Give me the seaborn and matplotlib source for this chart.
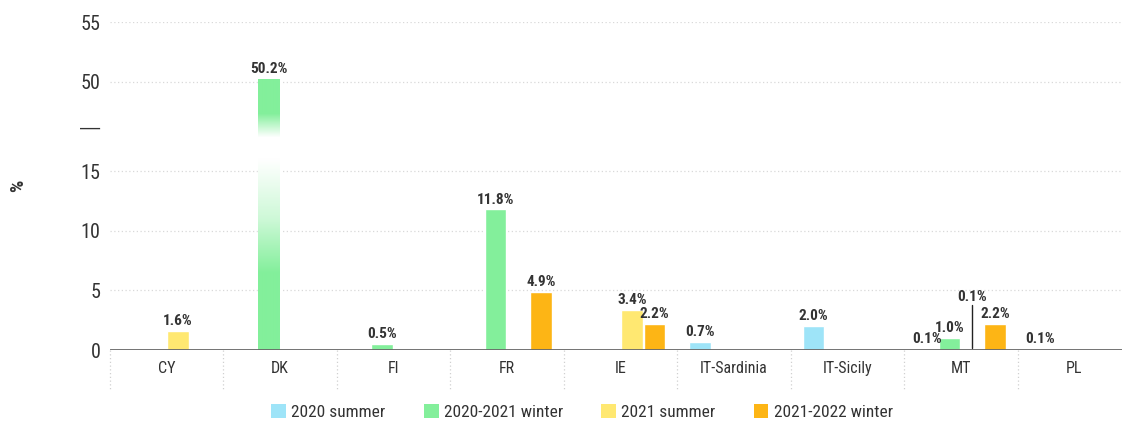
import numpy as np
import pandas as pd
import matplotlib

matplotlib.use("Agg")
import matplotlib.pyplot as plt
import matplotlib.transforms as mtransforms
from matplotlib.patches import Patch
import seaborn as sns

# data (None = no bar)
countries = ["CY", "DK", "FI", "FR", "IE", "IT-Sardinia", "IT-Sicily", "MT", "PL"]
seasons = ["2020 summer", "2020-2021 winter", "2021 summer", "2021-2022 winter"]
summer_2020 = [None, None, None, None, None, 0.7, 2.0, 0.1, 0.1]
winter_2020_21 = [None, 50.2, 0.5, 11.8, None, None, None, 1.0, None]
summer_2021 = [1.6, None, None, None, 3.4, None, None, 0.1, None]
winter_2021_22 = [None, None, None, 4.9, 2.2, None, None, 2.2, None]
colors = ["#9ee4f8", "#83ef9b", "#ffe871", "#fdb515"]

series = [summer_2020, winter_2020_21, summer_2021, winter_2021_22]
rows = []
for season, vals in zip(seasons, series):
    for c, v in zip(countries, vals):
        if v is not None:
            rows.append({"country": c, "season": season, "value": v})
df = pd.DataFrame(rows)

# broken y axis: 15..50 squeezed into a small gap
LOW, HIGH, GAP = 15.0, 50.0, 7.54


def fwd(v):
    v = np.asarray(v, dtype=float)
    return np.where(v <= LOW, v,
                    np.where(v >= HIGH, v - HIGH + LOW + GAP,
                             LOW + (v - LOW) * GAP / (HIGH - LOW)))


def inv(d):
    d = np.asarray(d, dtype=float)
    return np.where(d <= LOW, d,
                    np.where(d >= LOW + GAP, d - LOW - GAP + HIGH,
                             LOW + (d - LOW) * (HIGH - LOW) / GAP))


FONT = ["Roboto Condensed", "Liberation Sans", "DejaVu Sans"]
sns.set_theme(style="white")
plt.rcParams["font.family"] = FONT

fig = plt.figure(figsize=(11.22, 4.21), dpi=100)
ax = fig.add_axes([110 / 1122, 71 / 421, 1021 / 1122, 328 / 421])

sns.barplot(data=df, x="country", y="value", hue="season", order=countries,
            hue_order=seasons, palette=colors, width=0.8, gap=0.05,
            saturation=1, legend=False, ax=ax)

ax.set_yscale("function", functions=(fwd, inv))
ax.set_ylim(0, 55)
ax.set_xlim(-0.5, len(countries) - 0.5)

mid = float(inv(LOW + GAP / 2))
ax.set_yticks([0, 5, 10, 15, mid, 50, 55])
ax.set_yticklabels(["0", "5", "10", "15", "\u2014", "50", "55"])
ax.tick_params(axis="y", length=0, pad=7, labelsize=14.5, labelcolor="#333333")
ax.tick_params(axis="x", length=0, pad=8, labelsize=11.5, labelcolor="#333333")
# the break marker reads as a long dash
ax.get_yticklabels()[4].set_fontfamily(["Liberation Sans", "DejaVu Sans"])
ax.set_xlabel("")
ax.set_ylabel("%", fontsize=14, fontweight="bold", color="#333333")
ax.yaxis.set_label_coords(-0.081, 0.5)

for s in ax.spines.values():
    s.set_visible(False)

for t in [5, 10, 15, 50, 55]:
    ax.axhline(t, color="#d9d9d9", lw=0.9, ls=(0, (1, 2)), zorder=0)
ax.axhline(0, color="#666666", lw=2, zorder=5)

# dotted separators between categories, below the zero line
blend = mtransforms.blended_transform_factory(ax.transData, ax.transAxes)
for i in range(len(countries)):
    ax.plot([i - 0.5, i - 0.5], [0, -0.118], transform=blend, color="#d0d0d0",
            lw=0.9, ls=(0, (1, 2)), clip_on=False)

# value labels
for season, cont in zip(seasons, ax.containers):
    for bar, val in zip(cont, cont.datavalues):
        if np.isnan(val):
            continue
        x = bar.get_x() + bar.get_width() / 2
        if season == "2021 summer" and bar.get_x() > 6.5:
            # MT 0.1% with a leader line
            ax.plot([x, x], [val + 0.05, 3.75], color="#222222", lw=1, zorder=6)
            ax.text(x, 3.9, f"{val:.1f}%", ha="center", va="bottom",
                    fontsize=11, fontweight="bold", color="#333333")
            continue
        ax.annotate(f"{val:.1f}%", (x, val), xytext=(0, 2),
                    textcoords="offset points", ha="center", va="bottom",
                    fontsize=11, fontweight="bold", color="#333333")

# fade the tall DK bar across the axis break
fig.canvas.draw()
dk_bar = None
for cont in ax.containers:
    for bar, val in zip(cont, cont.datavalues):
        if val > HIGH:
            dk_bar = bar
if dk_bar is not None:
    bb = dk_bar.get_window_extent()
    (ax0, ay0), (ax1, ay1) = ax.transAxes.inverted().transform(
        [[bb.x0, bb.y0], [bb.x1, bb.y1]])
    n = int(round(bb.height))
    py = np.linspace(0, bb.height, n)  # pixels from top of bar
    a = np.interp(py, [0, 34, 58, 80, 140, 194, bb.height],
                  [0, 0, 1, 1, 0.6, 0, 0])
    base = np.array(matplotlib.colors.to_rgb(colors[1]))
    rgb = base[None, :] * (1 - a[:, None]) + a[:, None]
    img = np.repeat(rgb[:, None, :], 4, axis=1)
    im = ax.imshow(img, extent=[ax0, ax1, ay0, ay1], transform=ax.transAxes,
                   aspect="auto", interpolation="bilinear", zorder=3)
    im.set_clip_path(dk_bar)
    ax.set_xlim(-0.5, len(countries) - 0.5)
    ax.set_ylim(0, 55)

handles = [Patch(facecolor=c, edgecolor="none", label=s) for s, c in zip(seasons, colors)]
fig.legend(handles=handles, loc="center", bbox_to_anchor=(582 / 1122, 9 / 421),
           ncol=4, frameon=False, fontsize=12.5, handlelength=0.85,
           handleheight=0.85, handletextpad=0.3, columnspacing=2.2,
           labelcolor="#333333")

fig.savefig("out.png", dpi=100)
